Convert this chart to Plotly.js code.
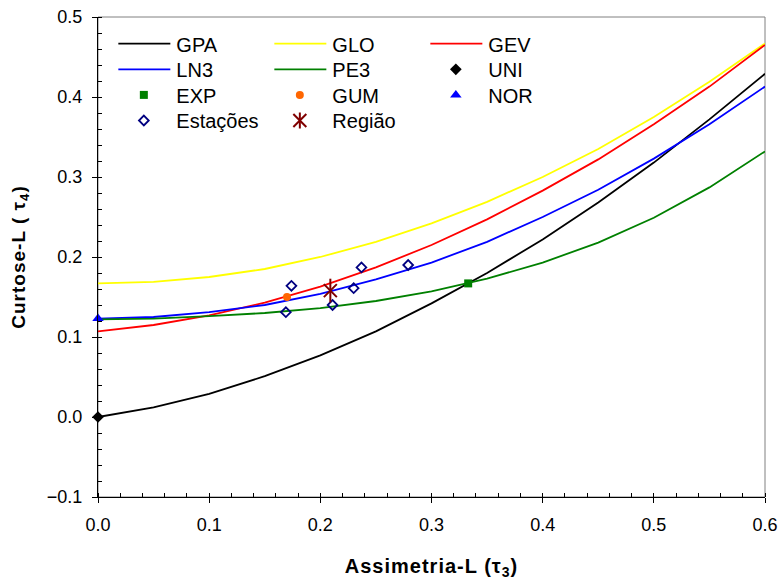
<!DOCTYPE html>
<html>
<head>
<meta charset="utf-8">
<script src="https://cdn.plot.ly/plotly-3.0.1.min.js"></script>
<style>
  html, body { margin: 0; padding: 0; background: #ffffff; }
  #chart { width: 781px; height: 580px; }
  #chart .xtitle, #chart .ytitle { letter-spacing: 1px; }
</style>
</head>
<body>
<div id="chart"></div>
<script>
// L-moment ratio diagram: L-skewness (tau3) vs L-kurtosis (tau4)

// Theoretical curves of the three-parameter distributions
const tau3Grid = [0, 0.05, 0.10, 0.15, 0.20, 0.25, 0.30, 0.35, 0.40, 0.45, 0.50, 0.55, 0.60];
const gpaTau4 = [0.000, 0.012, 0.029, 0.051, 0.077, 0.107, 0.142, 0.180, 0.222, 0.268, 0.318, 0.372, 0.429];
const gloTau4 = [0.167, 0.169, 0.175, 0.185, 0.200, 0.219, 0.242, 0.269, 0.300, 0.335, 0.375, 0.419, 0.467];
const gevTau4 = [0.107, 0.115, 0.127, 0.143, 0.163, 0.187, 0.215, 0.247, 0.283, 0.322, 0.366, 0.413, 0.465];
const ln3Tau4 = [0.123, 0.125, 0.131, 0.140, 0.154, 0.172, 0.193, 0.219, 0.250, 0.284, 0.323, 0.366, 0.413];
const pe3Tau4 = [0.122, 0.123, 0.126, 0.130, 0.136, 0.145, 0.157, 0.173, 0.193, 0.218, 0.249, 0.287, 0.332];

// Two-parameter distributions (single points)
const uniPoint = {tau3: [0.000], tau4: [0.000]};
const expPoint = {tau3: [0.333], tau4: [0.167]};
const gumPoint = {tau3: [0.170], tau4: [0.150]};
const norPoint = {tau3: [0.000], tau4: [0.123]};

// Sample L-moment ratios of the gauging stations
const stationTau3 = [0.174, 0.237, 0.279, 0.230, 0.169, 0.211];
const stationTau4 = [0.164, 0.187, 0.190, 0.161, 0.131, 0.140];

// Regional weighted average
const regionTau3 = [0.209];
const regionTau4 = [0.158];

const curveNames = ['GPA', 'GLO', 'GEV', 'LN3', 'PE3'];
const curveValues = [gpaTau4, gloTau4, gevTau4, ln3Tau4, pe3Tau4];
const curveColors = ['#000000', '#FFFF00', '#FF0000', '#0000FF', '#008000'];

const traces = [];
curveNames.forEach((name, i) => {
  traces.push({
    type: 'scatter', mode: 'lines', name: name,
    x: tau3Grid, y: curveValues[i],
    line: {color: curveColors[i], width: 1.8},
    cliponaxis: false
  });
});

const pointSpecs = [
  {name: 'UNI', d: uniPoint, symbol: 'diamond', color: '#000000', size: 9},
  {name: 'EXP', d: expPoint, symbol: 'square', color: '#008000', size: 8},
  {name: 'GUM', d: gumPoint, symbol: 'circle', color: '#FF6600', size: 8},
  {name: 'NOR', d: norPoint, symbol: 'triangle-up', color: '#0000FF', size: 10}
];
pointSpecs.forEach(p => {
  traces.push({
    type: 'scatter', mode: 'markers', name: p.name,
    x: p.d.tau3, y: p.d.tau4,
    marker: {symbol: p.symbol, color: p.color, size: p.size, line: {width: 0}},
    cliponaxis: false
  });
});

traces.push({
  type: 'scatter', mode: 'markers', name: 'Estações',
  x: stationTau3, y: stationTau4,
  marker: {symbol: 'diamond-open', color: '#000080', size: 7.5, line: {width: 1.8, color: '#000080'}}
});

// Six-armed star: an X with a vertical bar through it
const regionColor = '#800000';
traces.push({
  type: 'scatter', mode: 'markers', name: 'Região',
  x: regionTau3, y: regionTau4,
  marker: {symbol: 'x-thin-open', color: regionColor, size: 13, line: {width: 2, color: regionColor}}
});
traces.push({
  type: 'scatter', mode: 'markers', name: 'Região', showlegend: false,
  x: regionTau3, y: regionTau4,
  marker: {symbol: 'line-ns-open', color: regionColor, size: 17, line: {width: 2, color: regionColor}}
});

const fontFam = 'Liberation Sans, Arial, sans-serif';

const layout = {
  width: 781, height: 580,
  margin: {l: 98, r: 16, t: 17, b: 83},
  paper_bgcolor: '#ffffff', plot_bgcolor: '#ffffff',
  font: {family: fontFam, size: 18, color: '#000000'},
  showlegend: true,
  legend: {
    orientation: 'h',
    x: 0.02, y: 0.985, xanchor: 'left', yanchor: 'top',
    entrywidth: 85, entrywidthmode: 'pixels',
    itemwidth: 55,
    bgcolor: 'rgba(0,0,0,0)', borderwidth: 0,
    font: {family: fontFam, size: 20, color: '#000000'},
    traceorder: 'normal'
  },
  xaxis: {
    range: [0, 0.6], dtick: 0.1, tick0: 0, tickformat: '.1f',
    showgrid: false, zeroline: false,
    showline: true, linecolor: '#000000', linewidth: 1,
    ticks: 'outside', ticklen: 5, tickcolor: '#000000', tickwidth: 1,
    minor: {dtick: 0.02, ticks: 'inside', ticklen: 4, tickcolor: '#000000', tickwidth: 1, showgrid: false},
    tickfont: {family: fontFam, size: 18},
    ticklabelstandoff: 6,
    title: {text: '<b>Assimetria-L (τ<sub>3</sub>)</b>', font: {family: fontFam, size: 20}, standoff: 25}
  },
  yaxis: {
    range: [-0.1, 0.5], dtick: 0.1, tick0: 0, tickformat: '.1f',
    showgrid: false, zeroline: false,
    showline: true, linecolor: '#000000', linewidth: 1,
    ticks: 'outside', ticklen: 5, tickcolor: '#000000', tickwidth: 1,
    minor: {dtick: 0.02, ticks: 'inside', ticklen: 4, tickcolor: '#000000', tickwidth: 1, showgrid: false},
    tickfont: {family: fontFam, size: 18},
    ticklabelstandoff: 6,
    title: {text: '<b>Curtose-L ( τ<sub>4</sub>)</b>', font: {family: fontFam, size: 19}, standoff: 16}
  },
  shapes: [{
    type: 'rect', xref: 'paper', yref: 'paper', x0: 0, x1: 1, y0: 0, y1: 1,
    line: {color: '#808080', width: 1}, layer: 'below'
  }]
};

const gd = document.getElementById('chart');
Plotly.newPlot(gd, traces, layout, {displayModeBar: false, staticPlot: true}).then(() => {
  // Legend laid out as a 3-column grid with longer line samples
  gd.querySelectorAll('.legend .legendlines path').forEach(p => p.setAttribute('d', 'M7,0h52'));
  gd.querySelectorAll('.legend [clip-path]').forEach(el => el.removeAttribute('clip-path'));
  const colGap = 156, rowGap = 25.6, nCols = 3;
  let x0 = null, y0 = null;
  const items = gd.querySelectorAll('.legend .traces');
  items.forEach((g, i) => {
    const m = /translate\(\s*([-\d.e]+)[\s,]+([-\d.e]+)\s*\)/.exec(g.getAttribute('transform') || '');
    if (!m) return;
    if (x0 === null) { x0 = parseFloat(m[1]); y0 = parseFloat(m[2]); }
    const col = i % nCols, row = Math.floor(i / nCols);
    g.setAttribute('transform', 'translate(' + (x0 + col * colGap) + ',' + (y0 + row * rowGap) + ')');
  });
  // Add the vertical bar to the star symbol of the last legend entry
  const last = items[items.length - 1];
  if (last) {
    const pt = last.querySelector('.legendpoints path.scatterpts');
    if (pt) {
      const bar = document.createElementNS('http://www.w3.org/2000/svg', 'path');
      bar.setAttribute('d', 'M0,-8V8');
      bar.setAttribute('transform', pt.getAttribute('transform') || '');
      bar.setAttribute('style', 'stroke:' + regionColor + ';stroke-width:2px;fill:none;');
      pt.parentNode.appendChild(bar);
    }
  }
});
</script>
</body>
</html>
